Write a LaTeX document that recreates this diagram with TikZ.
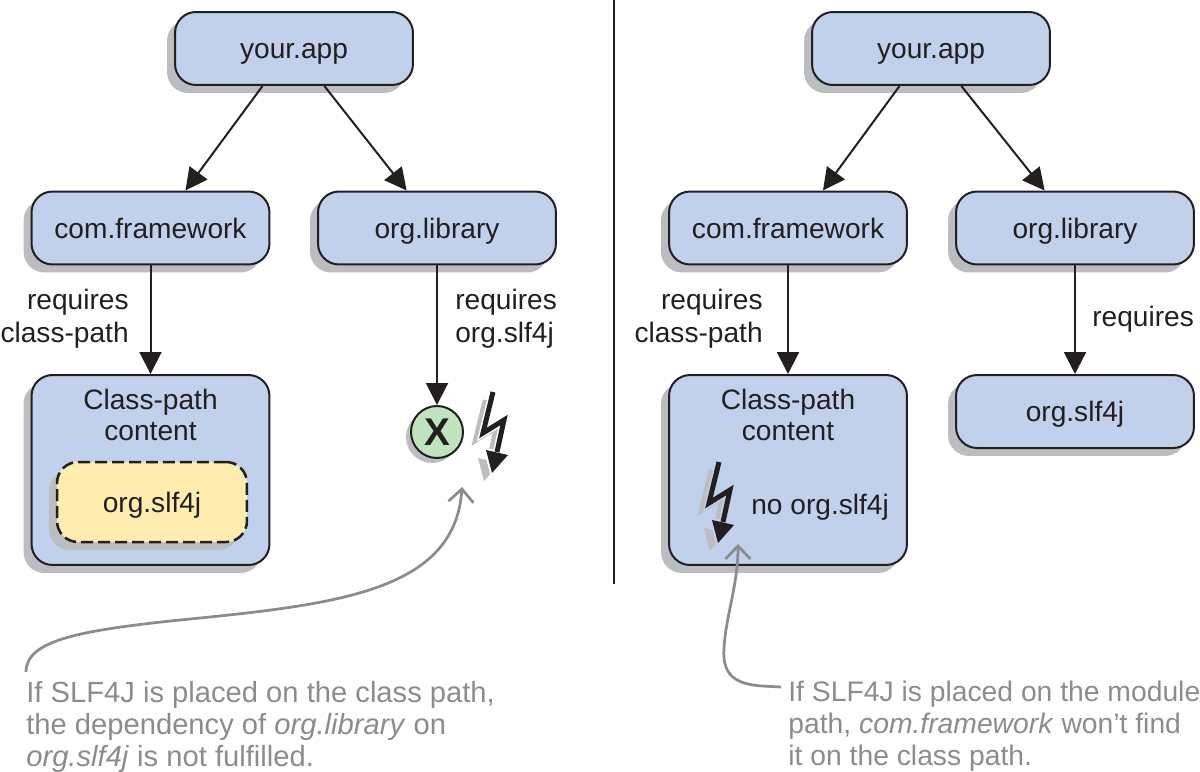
\documentclass[tikz,border=0pt]{standalone}
\usepackage{fontspec}
\setmainfont{Liberation Sans}
\usetikzlibrary{arrows.meta,shadows}

\definecolor{boxblue}{HTML}{C1D0EB}
\definecolor{boxyellow}{HTML}{FEEDAE}
\definecolor{boxgreen}{HTML}{C2E3BF}
\definecolor{shadowgray}{HTML}{BCBDC0}
\definecolor{notegray}{HTML}{8A8C8E}
\definecolor{inkdark}{HTML}{231F20}

\tikzset{
	module/.style={draw=inkdark, line width=0.04cm, fill=boxblue, rounded corners=0.42cm, inner sep=0pt,
		minimum width=4.76cm, minimum height=1.46cm, text=inkdark, font=\fontsize{16}{18.1}\selectfont,
		text height=11.6pt, text depth=0pt,
		drop shadow={shadow xshift=-0.16cm, shadow yshift=-0.16cm, opacity=1, fill=shadowgray}},
	caption/.style={inner sep=0pt, text=inkdark, font=\fontsize{16}{18.1}\selectfont},
	note/.style={inner sep=0pt, align=left, text=notegray, font=\fontsize{16.6}{18.1}\selectfont},
	dep/.style={draw=inkdark, line width=0.04cm, -{Triangle[length=0.44cm,width=0.44cm]}},
	hint/.style={draw=notegray, line width=0.055cm, -{Straight Barb[length=0.26cm,width=0.5cm]}},
	pics/bolt/.style={code={
		% shadow, gap, bolt
		\fill[shadowgray] (478,458) -- (500,463) -- (484,481) -- cycle;
		\draw[shadowgray, line width=0.09cm] (485,400) -- (475,441) -- (496,428) -- (489,460);
		\draw[#1, line width=0.16cm] (493,392) -- (483,433) -- (504,420) -- (497,452);
		\fill[#1] (483,447) -- (511,454) -- (491,477) -- cycle;
		\draw[inkdark, line width=0.1cm] (493,392) -- (483,433) -- (504,420) -- (497,452);
		\fill[inkdark] (486,450) -- (508,455) -- (492,473) -- cycle;
	}},
}

\begin{document}
\begin{tikzpicture}[x=0.02cm, y=-0.02cm]
	\useasboundingbox (0,0) rectangle (1200,771);

	% Class path
	\node[module] (appL) at (294,48.5) {your.app};
	\node[module] (frameworkL) at (150.5,228) {com.framework};
	\node[module] (libraryL) at (437,228) {org.library};
	\node[module, minimum height=3.8cm] (classpathL) at (150.5,470) {};
	\node[caption, align=center] (contentL) at (150.5,415) {Class-path\\content};
	\node[module, fill=boxyellow, line width=0.05cm, dash pattern=on 0.24cm off 0.1cm, minimum width=3.8cm, minimum height=1.6cm] (slfL) at (152,502) {org.slf4j};
	\node[circle, draw=inkdark, line width=0.04cm, fill=boxgreen, minimum size=1.04cm, inner sep=0pt,
		font=\fontsize{22}{22}\selectfont\bfseries, text=inkdark,
		drop shadow={shadow xshift=-0.1cm, shadow yshift=-0.1cm, opacity=1, fill=shadowgray}] (missing) at (437,432) {X};
	\pic {bolt=white};

	\draw[dep] (appL.-130) -- (frameworkL.47);
	\draw[dep] (appL.-51) -- (libraryL.129);
	\draw[dep] (frameworkL.south) -- (classpathL.north);
	\draw[dep] (libraryL.south) -- (missing.north);

	\node[caption, align=right, anchor=east, font=\fontsize{16}{18.7}\selectfont] (reqL) at (129,319) {requires\\class-path};
	\node[caption, align=left, anchor=west, font=\fontsize{16}{18.7}\selectfont] (reqslfL) at (455,319) {requires\\org.slf4j};

	\node[note, anchor=north west] (noteL) at (26,681) {If SLF4J is placed on the class path,\\the dependency of \textit{org.library} on\\\textit{org.slf4j} is not fulfilled.};
	\coordinate (boltL) at (462,487);
	\draw[hint] ([yshift=0.18cm]noteL.north west) .. controls (26,640) and (80,630) .. (190,619) .. controls (340,604) and (455,590) .. (boltL);

	% Divider
	\coordinate (dividerT) at (614,0);
	\coordinate (dividerB) at (614,584);
	\draw[inkdark, line width=0.04cm] (dividerT) -- (dividerB);

	% Module path
	\node[module] (appR) at (931,48.5) {your.app};
	\node[module] (frameworkR) at (788,228) {com.framework};
	\node[module] (libraryR) at (1075,228) {org.library};
	\node[module, minimum height=3.8cm] (classpathR) at (788,470) {};
	\node[caption, align=center] (contentR) at (788,415) {Class-path\\content};
	\node[caption, anchor=west] (noslf) at (751,507) {no org.slf4j};
	\node[module] (slfR) at (1075,411.5) {org.slf4j};
	\pic at (226,70) {bolt=boxblue};

	\draw[dep] (appR.-130) -- (frameworkR.47);
	\draw[dep] (appR.-51) -- (libraryR.129);
	\draw[dep] (frameworkR.south) -- (classpathR.north);
	\draw[dep] (libraryR.south) -- (slfR.north);

	\node[caption, align=right, anchor=east, font=\fontsize{16}{18.7}\selectfont] (reqR) at (763,319) {requires\\class-path};
	\node[caption, anchor=west] (reqslfR) at (1092,319) {requires};

	\node[note, anchor=north west, font=\fontsize{16.1}{18.1}\selectfont] (noteR) at (788,681) {If SLF4J is placed on the module\\path, \textit{com.framework} won’t find\\it on the class path.};
	\coordinate (boltR) at (738,544);
	\draw[hint] ([shift={(-7,6)}]noteR.north west) -- (762,686) .. controls (735,684) and (722,675) .. (724,648) .. controls (726,615) and (738,585) .. (boltR);
\end{tikzpicture}
\end{document}
